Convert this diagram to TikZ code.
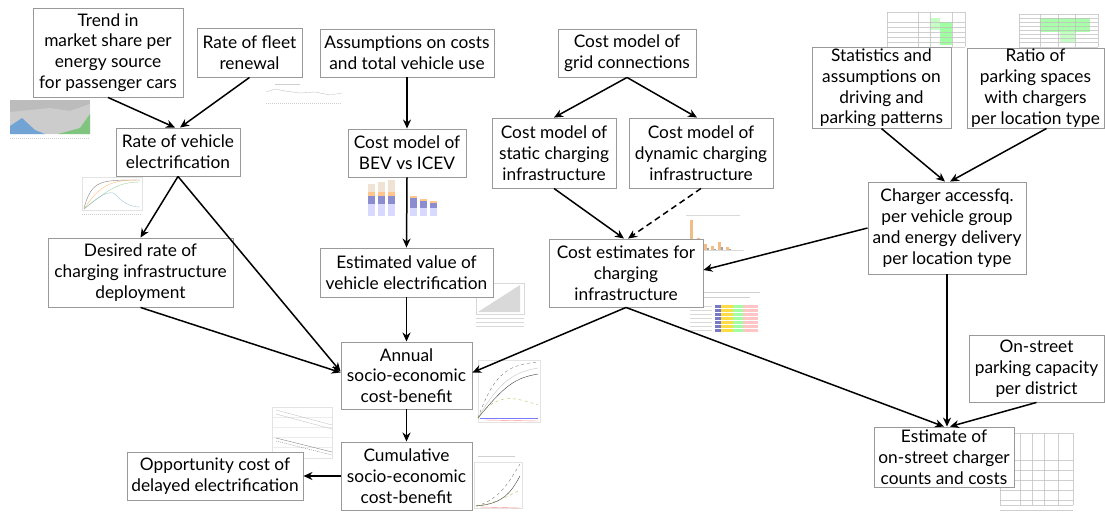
\documentclass[tikz,border=0pt]{standalone}
\usepackage{fontspec}
\setmainfont{Lato}
\usetikzlibrary{arrows.meta}
\tikzset{
  box/.style={draw=black!40, line width=0.9pt, fill=white, align=center, inner sep=1pt,
    font=\fontsize{17.3}{20.8}\selectfont},
  link/.style={line width=1.5pt, -{Stealth[length=9pt,width=8pt]}},
  thumb/.style={opacity=0.75}
}
\begin{document}
\begin{tikzpicture}[x=1pt,y=-1pt]
\useasboundingbox (0,0) rectangle (1105,514);

%thumbnails
\begin{scope}[thumb]
  % market share
  \fill[gray!70] (10,100) rectangle (90,134);
  \fill[gray!35] (10,112) -- (30,110) -- (50,108) -- (70,111) -- (90,104) -- (90,134) -- (10,134) -- cycle;
  \fill[cyan!60!blue!70] (10,134) -- (10,126) -- (22,118) -- (35,130) -- (45,134) -- cycle;
  \fill[green!60!black!60] (58,134) -- (80,128) -- (90,114) -- (90,134) -- cycle;
  \draw[gray!50, dash pattern=on 1pt off 1pt] (10,138) -- (90,138);
  % fleet renewal
  \draw[gray!50] (275,84) -- (300,84);
  \draw[gray!60] (266,92) -- (275,89) -- (285,91) -- (300,93) -- (315,92) -- (330,95) -- (342,93);
  \draw[gray!50, dash pattern=on 1pt off 1pt] (266,103) -- (342,103);
  % electrification rate
  \draw[gray!30] (82,177) rectangle (142,210);
  \draw[gray!70!black] (84,208) .. controls (92,180) and (100,180) .. (140,180);
  \draw[orange!70] (84,209) .. controls (100,185) and (110,180) .. (140,180);
  \draw[green!50!black!50] (84,209) .. controls (108,190) and (118,182) .. (140,182);
  \draw[cyan!60!black!60] (84,209) .. controls (100,195) and (110,190) .. (115,194) .. controls (122,202) and (130,207) .. (140,207);
  \draw[gray!50, dash pattern=on 1pt off 1pt] (82,214) -- (142,214);
  % BEV vs ICEV bars
  \foreach \x/\t in {368/192,378/190,388/188}{
    \fill[blue!20] (\x,216) rectangle ++(7,-12);
    \fill[blue!60!black!60] (\x,204) rectangle ++(7,-8);
    \fill[orange!60] (\x,196) rectangle ++(7,-4);
    \fill[brown!30] (\x,192) rectangle (\x+7,\t-8);
  }
  \foreach \x/\t in {410/196,420/199,430/201}{
    \fill[blue!20] (\x,216) rectangle ++(7,-8);
    \fill[blue!60!black!60] (\x,208) rectangle (\x+7,\t+2);
    \fill[orange!60] (\x,\t+2) rectangle (\x+7,\t);
  }
  % value of electrification
  \fill[gray!40] (478,312) -- (520,285) -- (520,312) -- cycle;
  \draw[gray!40] (476,283) rectangle (524,314);
  \foreach \y in {318,322,326}{\draw[gray!40] (476,\y) -- (524,\y);}
  % charging cost bars
  \draw[gray!40] (686,215) -- (740,215);
  \foreach \x/\h in {690/30,697/12,704/6,711/4,718/8,726/3}{
    \fill[orange!60!brown!70] (\x,250) rectangle ++(3,-\h);
    \fill[black!50] (\x+3,250) rectangle ++(2,-\h/3);
  }
  \draw[gray!40] (686,250) -- (744,250);
  % horizontal cost bars
  \draw[gray!50] (690,292) -- (760,292);
  \draw[gray!50] (690,297) -- (750,297);
  \foreach \y in {305,309,313,317,321,325,329}{
    \fill[blue!60!black!70] (715,\y) rectangle ++(6,2.5);
    \fill[yellow!70!orange] (721,\y) rectangle ++(12,2.5);
    \fill[green!50] (733,\y) rectangle ++(10,2.5);
    \fill[red!30] (743,\y) rectangle ++(15,2.5);
    \draw[gray!40] (690,\y+1) -- (712,\y+1);
  }
  % annual result
  \draw[gray!30] (478,360) rectangle (540,422);
  \draw[black!70, dashed] (478,418) .. controls (495,370) and (510,365) .. (538,362);
  \draw[gray!60] (478,418) .. controls (500,380) and (515,372) .. (538,368);
  \draw[black] (478,418) .. controls (505,385) and (515,378) .. (538,374);
  \draw[olive!70, dashed] (478,418) .. controls (495,395) and (510,395) .. (538,405);
  \draw[blue!70] (480,418) -- (538,418);
  \draw[red!60] (485,420) -- (538,421);
  % cumulative result
  \draw[gray!50] (478,456) -- (515,456);
  \draw[gray!30] (474,462) rectangle (522,508);
  \draw[black!70, dashed] (476,506) .. controls (500,500) and (510,480) .. (520,464);
  \draw[black] (476,506) .. controls (505,504) and (512,490) .. (520,476);
  \draw[olive!70, dashed] (476,506) .. controls (500,502) and (510,495) .. (520,490);
  \draw[red!60] (480,507) -- (520,508);
  % opportunity cost
  \draw[gray!30] (272,407) rectangle (332,458);
  \foreach \y in {417,427,437,447}{\draw[gray!20] (272,\y) -- (332,\y);}
  \draw[gray!60] (276,410) -- (332,425);
  \draw[gray!60] (276,414) -- (332,429);
  \draw[black!60] (276,438) -- (332,452);
  \draw[black!60, dash pattern=on 1pt off 1pt] (276,441) -- (332,455);
  % charger table
  \foreach \x in {1000,1020,1032,1044,1058,1073}{\draw[gray!50] (\x,433) -- (\x,505);}
  \foreach \y in {433,460,470,480,490,500,505}{\draw[gray!50] (1000,\y) -- (1073,\y);}
  \draw[gray!50] (1000,510) -- (1073,510);
  % driving table
  \fill[green!50] (940,22) rectangle (952,45);
  \fill[green!30] (930,18) rectangle (940,30);
  \foreach \x in {887,918,930,952,965}{\draw[gray!50] (\x,12) -- (\x,47);}
  \foreach \y in {12,22,27,32,37,42,47}{\draw[gray!50] (887,\y) -- (965,\y);}
  % parking table
  \fill[green!45] (1040,18) rectangle (1090,32);
  \fill[green!30] (1060,32) rectangle (1075,42);
  \foreach \x in {1019,1040,1058,1075,1098}{\draw[gray!50] (\x,14) -- (\x,47);}
  \foreach \y in {14,18,22,26,30,34,38,42,47}{\draw[gray!50] (1019,\y) -- (1098,\y);}
\end{scope}

%boxes
\node[box, minimum width=150, minimum height=89] (trend) at (108,52.5) {Trend in\\market share per\\energy source\\for passenger cars};
\node[box, minimum width=105, minimum height=49] (fleet) at (249.5,52.5) {Rate of fleet\\renewal};
\node[box, minimum width=174, minimum height=48] (assum) at (407,53) {Assumptions on costs\\and total vehicle use};
\node[box, minimum width=138, minimum height=48] (grid) at (627,53) {Cost model of\\grid connections};
\node[box, minimum width=124, minimum height=70] (static) at (554,153) {Cost model of\\static charging\\infrastructure};
\node[box, minimum width=144, minimum height=70] (dynamic) at (701,153) {Cost model of\\dynamic charging\\infrastructure};
\node[box, minimum width=139, minimum height=80] (stats) at (881.5,88) {Statistics and\\assumptions on\\driving and\\parking patterns};
\node[box, minimum width=137, minimum height=80] (ratio) at (1035.5,88) {Ratio of\\parking spaces\\with chargers\\per location type};
\node[box, minimum width=158, minimum height=92] (access) at (947,228) {Charger accessfq.\\per vehicle group\\and energy delivery\\per location type};
\node[box, minimum width=124, minimum height=48] (vehicle) at (178,152) {Rate of vehicle\\electrification};
\node[box, minimum width=185, minimum height=69] (desired) at (140.5,272.5) {Desired rate of\\charging infrastructure\\deployment};
\node[box, minimum width=118, minimum height=48] (bev) at (407,153) {Cost model of\\BEV vs ICEV};
\node[box, minimum width=173, minimum height=49] (estval) at (406.5,272.5) {Estimated value of\\vehicle electrification};
\node[box, minimum width=154, minimum height=68] (costest) at (626,273) {Cost estimates for\\charging\\infrastructure};
\node[box, minimum width=131, minimum height=67] (annual) at (406.5,375.5) {Annual\\socio-economic\\cost-benefit};
\node[box, minimum width=131, minimum height=68] (cumul) at (406.5,476) {Cumulative\\socio-economic\\cost-benefit};
\node[box, minimum width=176, minimum height=48] (oppcost) at (215,476) {Opportunity cost of\\delayed electrification};
\node[box, minimum width=135, minimum height=67] (onstreet) at (1036.5,368.5) {On-street\\parking capacity\\per district};
\node[box, minimum width=140, minimum height=60] (estimate) at (944,457) {Estimate of\\on-street charger\\counts and costs};

%links
\draw[link] (trend.south) -- ([xshift=-3]vehicle.north);
\draw[link] (fleet.south) -- ([xshift=2]vehicle.north);
\draw[link] (assum.south) -- (bev.north);
\draw[link] (grid.south) -- (static.north);
\draw[link] (grid.south) -- ([xshift=-4]dynamic.north);
\draw[link] (static.south) -- ([xshift=-2]costest.north);
\draw[link, dash pattern=on 6pt off 4pt] (dynamic.south) -- ([xshift=2]costest.north);
\draw[link] (stats.south) -- ([xshift=-2]access.north);
\draw[link] ([xshift=11]ratio.south) -- ([xshift=3]access.north);
\draw[link] (access.west) -- ([yshift=3]costest.east);
\draw[link] (access.south) -- (access.south |- estimate.north);
\draw[link] (onstreet.south) -- ([xshift=6]estimate.north);
\draw[link] (costest.south) -- (estimate.north);
\draw[link] (costest.south) -- ([yshift=3]annual.east);
\draw[link] (vehicle.south) -- (desired.north);
\draw[link] (vehicle.south) -- ([yshift=4]annual.west);
\draw[link] (desired.south) -- ([yshift=3]annual.west);
\draw[link] (estval.south) -- (annual.north);
\draw[link] (bev.south) -- (estval.north);
\draw[link] (annual.south) -- (cumul.north);
\draw[link] (cumul.west) -- (oppcost.east);
\end{tikzpicture}
\end{document}
